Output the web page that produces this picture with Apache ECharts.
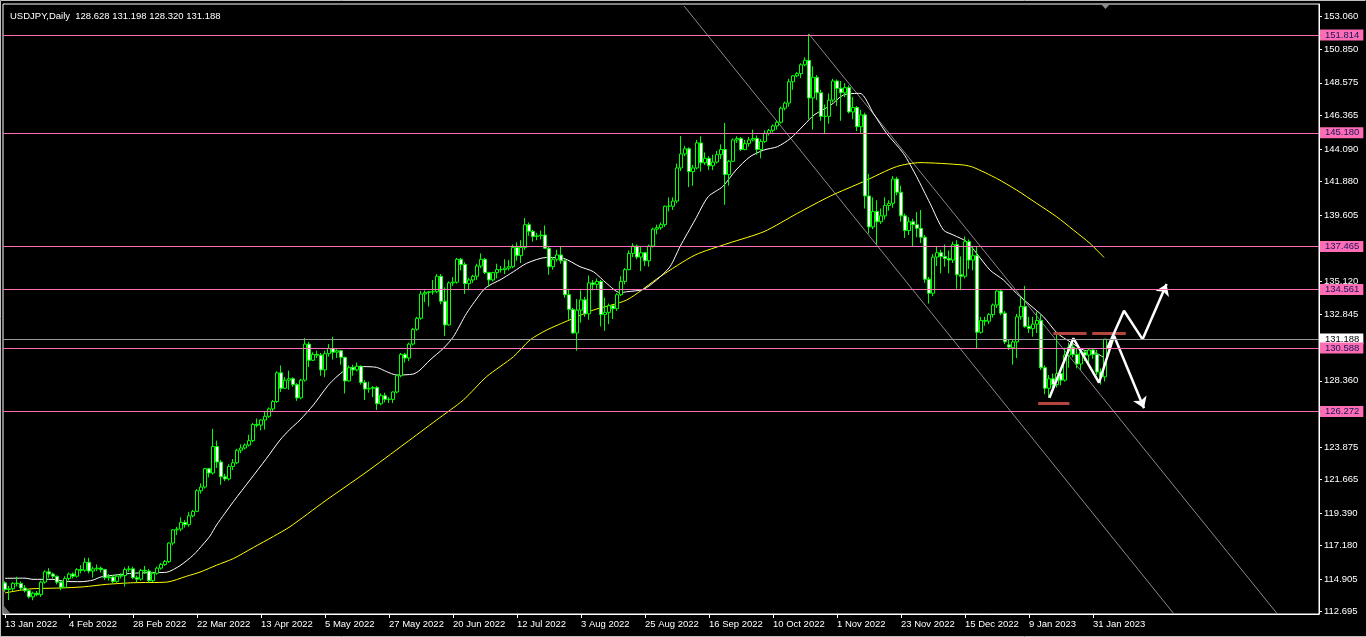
<!DOCTYPE html>
<html>
<head>
<meta charset="utf-8">
<script src="https://cdn.jsdelivr.net/npm/echarts@6/dist/echarts.min.js"></script>
<style>
html,body{margin:0;padding:0;background:#000;}
#c{width:1366px;height:637px;}
</style>
</head>
<body>
<div id="c"></div>
<script>
// ---------- DATA ----------
const titleText = 'USDJPY,Daily  128.628 131.198 128.320 131.188';
const dateLabels = ['13 Jan 2022','4 Feb 2022','28 Feb 2022','22 Mar 2022','13 Apr 2022','5 May 2022',
  '27 May 2022','20 Jun 2022','12 Jul 2022','3 Aug 2022','25 Aug 2022','16 Sep 2022','10 Oct 2022',
  '1 Nov 2022','23 Nov 2022','15 Dec 2022','9 Jan 2023','31 Jan 2023'];
const barsPerDateLabel = 16;
const slotCount = 329; // bars + empty shift area on the right
const priceTicks = [153.060,150.850,148.575,146.365,144.090,141.880,139.605,137.395,135.120,132.845,
  130.635,128.360,126.150,123.875,121.665,119.390,117.180,114.905,112.695];
const levels = [151.814,145.180,137.465,134.561,130.588,126.272];
const lastPrice = 131.188;
// daily candles: [open, close, low, high]
const candles = [
[114.65,114.20,114.05,114.75],[114.20,114.25,113.48,114.45],[114.25,114.62,114.10,114.70],[114.62,114.60,114.40,115.07],[114.60,114.30,114.15,114.75],
[114.30,114.12,114.00,114.50],[114.12,113.70,113.60,114.20],[113.70,113.95,113.47,114.05],[113.95,113.85,113.75,114.10],[113.85,114.70,113.70,114.80],
[114.70,115.40,114.60,115.50],[115.40,115.25,115.00,115.65],[115.25,115.10,114.95,115.35],[115.10,114.70,114.55,115.15],[114.70,114.35,114.15,114.75],
[114.35,114.95,114.30,115.10],[114.95,115.25,114.80,115.35],[115.25,115.10,114.95,115.35],[115.10,115.55,115.00,115.65],[115.55,115.50,115.30,115.85],
[115.50,116.05,115.40,116.35],[116.05,115.45,115.30,116.35],[115.45,115.60,115.00,115.75],[115.60,115.65,115.45,115.90],[115.65,115.55,115.35,115.75],
[115.55,115.00,114.85,115.60],[115.00,115.05,114.80,115.25],[115.05,114.75,114.60,115.20],[114.75,115.10,114.65,115.25],[115.10,115.15,114.95,115.30],
[115.15,115.55,114.40,115.70],[115.55,115.60,115.40,115.80],[115.60,115.00,114.90,115.75],[115.00,114.90,114.70,115.15],[114.90,115.50,114.80,115.60],
[115.50,115.45,115.25,115.80],[115.45,114.80,114.65,115.60],[114.80,115.30,114.70,115.40],[115.30,115.65,115.20,115.75],[115.65,115.90,115.55,116.00],
[115.90,116.10,115.80,116.20],[116.10,117.35,116.00,117.40],[117.35,118.25,117.20,118.30],[118.25,118.30,117.90,118.45],[118.30,118.75,118.15,119.10],
[118.75,118.60,118.40,118.90],[118.60,119.20,118.45,119.45],[119.20,119.50,119.10,119.60],[119.50,120.90,119.45,121.00],[120.90,121.15,120.70,121.40],
[121.15,122.40,121.05,122.45],[122.40,122.10,121.80,122.45],[122.10,123.90,122.00,125.10],[123.90,122.85,122.45,124.30],[122.85,121.85,121.30,123.00],
[121.85,121.70,121.55,122.05],[121.70,122.55,121.60,122.70],[122.55,122.80,122.30,123.05],[122.80,123.65,122.70,123.75],[123.65,123.80,123.45,124.05],
[123.80,124.00,123.70,124.10],[124.00,124.30,123.90,124.70],[124.30,125.40,124.20,125.50],[125.40,125.35,125.20,125.80],[125.35,125.70,125.00,125.75],
[125.70,125.95,125.05,126.30],[125.95,126.45,125.85,126.55],[126.45,126.95,126.30,127.05],[126.95,128.90,126.85,129.00],[128.90,127.85,127.60,129.40],
[127.85,128.40,127.80,128.60],[128.40,128.50,127.75,129.05],[128.50,128.10,127.95,128.60],[128.10,127.20,127.00,128.20],[127.20,128.40,127.10,128.50],
[128.40,130.85,128.30,131.25],[130.85,129.75,129.30,131.00],[129.75,130.15,129.70,130.30],[130.15,130.10,129.90,130.40],[130.10,129.10,128.70,130.25],
[129.10,130.20,128.60,130.40],[130.20,130.55,130.00,130.85],[130.55,130.30,129.80,131.35],[130.30,130.40,129.90,130.50],[130.40,129.95,129.45,130.45],
[129.95,128.35,127.50,130.00],[128.35,129.25,128.30,129.40],[129.25,129.10,128.70,129.45],[129.10,129.35,129.00,129.60],[129.35,128.25,128.10,129.40],
[128.25,127.80,127.05,128.40],[127.80,127.85,127.55,128.30],[127.85,127.90,127.25,128.00],[127.90,126.80,126.38,128.00],[126.80,127.35,126.70,127.50],
[127.35,127.10,126.90,127.55],[127.10,127.10,126.85,127.25],[127.10,127.60,126.85,127.65],[127.60,128.70,127.50,128.80],[128.70,130.15,128.60,130.25],
[130.15,129.90,129.60,130.25],[129.90,130.85,129.70,130.95],[130.85,131.85,130.75,131.95],[131.85,132.60,131.75,132.70],[132.60,134.25,132.50,134.45],
[134.25,134.35,133.70,134.50],[134.35,134.40,133.40,134.45],[134.40,134.40,134.20,135.20],[134.40,135.45,134.30,135.60],[135.45,133.75,133.55,135.60],
[133.75,132.15,131.40,134.70],[132.15,135.00,132.10,135.10],[135.00,135.05,134.80,135.40],[135.05,136.60,134.95,136.70],[136.60,136.25,135.85,136.70],
[136.25,134.95,134.25,136.40],[134.95,135.20,134.50,135.35],[135.20,135.45,135.00,135.55],[135.45,136.15,135.20,136.30],[136.15,136.60,136.00,137.00],
[136.60,135.70,135.60,136.70],[135.70,135.20,134.75,135.75],[135.20,135.70,135.10,135.75],[135.70,135.90,135.30,136.30],[135.90,135.90,135.70,136.15],
[135.90,136.00,135.60,136.60],[136.00,136.10,135.85,136.55],[136.10,137.40,136.00,137.60],[137.40,136.85,136.50,137.75],[136.85,137.40,136.35,137.90],
[137.40,138.95,137.25,139.40],[138.95,138.50,138.20,139.10],[138.50,138.15,137.80,138.60],[138.15,138.20,137.90,138.40],[138.20,138.25,137.95,138.55],
[138.25,137.35,137.30,138.90],[137.35,136.10,135.55,137.45],[136.10,136.60,135.90,136.75],[136.60,136.90,136.45,137.25],[136.90,136.50,136.30,137.45],
[136.50,134.20,134.00,136.60],[134.20,133.20,132.50,134.60],[133.20,131.60,131.55,133.30],[131.60,133.15,130.40,133.90],[133.15,133.85,132.30,134.50],
[133.85,132.90,132.70,134.05],[132.90,135.00,132.50,135.50],[135.00,134.90,134.50,135.20],[134.90,135.10,134.60,135.30],[135.10,132.85,132.05,135.20],
[132.85,133.00,131.75,134.00],[133.00,133.45,132.20,133.60],[133.45,133.25,132.55,133.50],[133.25,134.20,133.10,134.30],[134.20,135.10,134.10,135.45],
[135.10,135.90,134.90,136.00],[135.90,137.00,135.85,137.20],[137.00,137.50,136.75,137.70],[137.50,136.75,136.60,137.60],[136.75,137.05,135.80,137.45],
[137.05,136.50,136.15,137.10],[136.50,137.50,136.10,137.60],[137.50,138.65,137.40,138.75],[138.65,138.75,138.30,138.95],[138.75,138.95,138.60,139.10],
[138.95,140.20,138.80,140.25],[140.20,140.20,139.85,140.80],[140.20,140.55,139.95,140.80],[140.55,142.80,140.40,143.10],[142.80,143.75,142.60,144.97],
[143.75,144.10,143.60,144.30],[144.10,142.55,141.50,144.20],[142.55,142.80,141.60,143.00],[142.80,144.50,142.70,144.70],[144.50,143.15,142.55,144.95],
[143.15,143.45,143.00,143.85],[143.45,142.95,142.65,143.60],[142.95,143.20,142.65,143.70],[143.20,143.70,143.10,143.95],[143.70,144.05,143.40,144.40],
[144.05,142.35,140.30,145.85],[142.35,143.25,141.60,143.35],[143.25,144.70,143.20,144.80],[144.70,144.80,144.50,144.95],[144.80,144.05,143.95,144.90],
[144.05,144.45,144.00,144.70],[144.45,144.70,144.25,144.90],[144.70,144.80,144.60,145.40],[144.80,144.05,143.70,145.00],[144.05,144.60,143.45,144.75],
[144.60,145.15,144.50,145.35],[145.15,145.35,145.00,145.45],[145.35,145.65,145.20,145.75],[145.65,145.90,145.40,146.00],[145.90,146.85,145.80,146.95],
[146.85,147.20,146.70,147.30],[147.20,148.65,146.95,148.85],[148.65,149.05,148.10,149.10],[149.05,149.20,148.95,149.30],[149.20,149.80,148.90,149.90],
[149.80,150.10,149.70,150.30],[150.10,147.55,146.10,151.88],[147.55,148.95,145.40,149.70],[148.95,147.90,147.40,149.10],[147.90,146.30,146.00,148.10],
[146.30,146.30,145.10,147.10],[146.30,147.40,145.80,147.85],[147.40,148.70,147.25,148.85],[148.70,148.20,147.00,148.80],[148.20,147.90,146.00,148.70],
[147.90,148.25,147.60,148.55],[148.25,146.60,146.50,148.40],[146.60,146.90,146.10,147.60],[146.90,145.60,145.30,147.00],[145.60,146.40,145.10,146.75],
[146.40,140.90,140.05,146.55],[140.90,138.80,138.35,142.40],[138.80,139.85,138.65,140.80],[139.85,139.15,137.60,140.60],[139.15,139.55,139.00,140.05],
[139.55,140.25,139.30,140.80],[140.25,140.40,139.90,140.60],[140.40,142.05,140.10,142.25],[142.05,141.15,140.95,142.20],[141.15,139.55,139.15,141.60],
[139.55,138.55,138.05,139.70],[138.55,139.15,138.25,139.45],[139.15,138.95,137.50,139.35],[138.95,138.70,138.10,139.80],[138.70,138.10,137.70,139.95],
[138.10,135.25,135.00,138.25],[135.25,134.30,133.60,135.40],[134.30,136.75,134.10,136.95],[136.75,137.05,136.15,137.45],[137.05,136.80,135.65,137.25],
[136.80,136.65,136.10,137.60],[136.65,136.55,135.65,137.20],[136.55,137.60,136.35,137.80],[137.60,135.55,134.60,137.90],[135.55,135.45,134.50,136.80],
[135.45,137.80,135.30,138.15],[137.80,136.55,135.95,137.95],[136.55,136.85,135.85,137.45],[136.85,131.65,130.56,137.47],[131.65,132.45,131.55,132.70],
[132.45,132.40,132.10,132.70],[132.40,132.85,132.20,132.95],[132.85,133.50,132.65,133.60],[133.50,134.45,133.30,134.50],[134.45,132.95,132.80,134.55],
[132.95,131.00,130.85,133.10],[130.80,130.65,130.45,131.15],[130.60,131.00,129.45,131.15],[131.00,132.70,129.90,132.90],[132.70,133.40,132.50,134.05],
[133.40,132.05,131.95,134.80],[132.05,131.90,131.60,132.70],[131.90,132.20,131.35,132.70],[132.20,132.45,131.60,133.05],[132.45,129.25,129.10,132.85],
[129.25,127.85,127.45,129.40],[127.85,128.50,127.20,128.75],[128.50,128.10,127.60,128.85],[128.10,128.85,127.90,131.55],[128.85,128.40,128.05,129.05],
[128.40,130.10,128.30,130.60],[130.10,130.65,129.25,130.95],[130.65,130.15,129.95,131.00],[130.15,129.50,129.20,130.60],[129.50,130.30,129.10,130.45],
[130.30,130.10,129.70,130.45],[130.10,130.45,129.60,130.55],[130.45,130.15,129.85,130.55],[130.15,128.95,128.75,130.45],[128.95,128.63,128.10,129.20],
[128.628,131.188,128.320,131.198]
];
// moving averages: [bar index, price]
const whiteMA = [[0,114.96],[5,114.97],[7,114.89],[12,114.89],[15,114.75],[19,114.73],[22,114.84],[24,115.05],[32,115.30],[38,115.35],
[40.4,115.37],[43.75,115.82],[47.1,116.54],[49.6,117.29],[51.25,117.83],[52.9,118.58],[57.1,120.16],[61.25,121.63],[65.4,123.10],
[68.75,124.34],[71.25,125.07],[73.75,125.70],[77.1,126.72],[81.25,128.19],[85.4,129.14],[89.6,129.32],[92.9,129.27],[95.4,128.98],
[97.9,128.75],[102.1,128.82],[103.75,129.09],[106.25,129.77],[109.6,130.56],[112.1,131.35],[115.4,132.94],[119.6,134.52],[121.25,134.86],
[123.75,135.20],[127.1,135.76],[130.4,136.33],[135.4,136.73],[139.6,136.67],[143.75,136.10],[147.1,135.76],[150.4,134.97],[153.75,134.34],
[155.4,134.40],[159.6,134.56],[162.9,135.20],[166.25,136.10],[168.75,137.46],[172.5,139.27],[175.8,140.85],[179.4,141.53],[182.75,142.66],
[186.25,143.56],[189.75,144.02],[193.1,144.24],[196.4,144.81],[199.75,145.71],[202.25,146.39],[206.4,147.05],[209.6,147.75],[213.75,147.86],
[217.1,146.50],[220.4,145.15],[224.6,143.79],[227.9,142.21],[231.25,140.40],[234.6,138.59],[237.1,138.25],[240.4,137.80],[242.9,137.01],
[246.25,135.87],[249.6,135.20],[252.9,134.29],[256.25,133.50],[259.6,132.71],[263.1,131.58],[266.25,131.01],[269.6,130.45],[272.9,130.22],[275,129.88]];
const yellowMA = [[0,113.97],[6.25,114.24],[13.75,114.30],[19.6,114.38],[25.4,114.55],[32.1,114.66],[40.4,114.70],[45.4,115.10],[48.75,115.38],
[52.9,115.85],[57.1,116.30],[62.1,117.05],[67.1,117.80],[71.25,118.46],[80,120.20],[90,122.10],[100,124.10],[107.9,125.70],[114.6,127.06],
[120.4,128.64],[127.1,129.99],[131.25,131.13],[135.4,131.80],[141.25,132.50],[147.1,133.16],[155.4,133.84],[163.75,135.42],[172.5,136.89],
[180.75,137.68],[189.75,138.48],[198.1,139.72],[206.4,140.90],[214.6,141.87],[222.9,142.89],[228.75,143.16],[239.6,143.00],[242.1,142.84],
[247.9,142.09],[252.9,141.30],[257.9,140.40],[262.9,139.49],[267.1,138.59],[271.25,137.68],[274.75,136.73]];
// drawn objects (anchor points in [bar index, price])
const channelA = [[169.75,153.79],[292.25,112.54]];
const channelB = [[201,151.88],[318.1,112.54]];
const zigzagDown = [[261.1,127.21],[267.1,131.24],[273.5,128.23],[277.25,131.42],[284.75,126.49]];
const zigzagUp = [[275.6,130.58],[279.75,133.11],[284.4,131.17],[290.4,134.93]];
const redMarks = [[[262.1,131.58],[270.4,131.58]],[[271.8,131.58],[280.2,131.58]],[[258.3,126.83],[266.1,126.83]]];

// ---------- CHART ----------
const FONT = 'Liberation Sans';
const categories = Array.from({length: slotCount}, (_, i) => String(i));
const showDate = (idx) => idx % barsPerDateLabel === 0 && idx / barsPerDateLabel < dateLabels.length;
const PINK = '#ff6eb4';

function lastSeg(path){ return [path[path.length-2], path[path.length-1]]; }
function allButLast(path){ return path.slice(0, path.length-1); }

const levelMarks = [
  {yAxis: lastPrice, lineStyle:{color:'#9a9a9a', width:1, type:'solid'},
   label:{backgroundColor:'#ffffff', color:'#000000'}}
].concat(levels.map(v => ({yAxis: v, lineStyle:{color: PINK, width:1, type:'solid'},
   label:{backgroundColor: PINK, color:'#14145a'}})));

const chart = echarts.init(document.getElementById('c'));
chart.setOption({
  backgroundColor: '#000000',
  animation: false,
  title: {text: titleText, left: 5, top: 6, textStyle: {color:'#ffffff', fontSize: 9.5, fontWeight:'normal', fontFamily: FONT}},
  grid: {left: 3, top: 4, width: 1316, height: 610, show: true, borderColor:'#ffffff', borderWidth:1, backgroundColor:'transparent'},
  xAxis: [
    {type:'category', data: categories, boundaryGap: true,
     axisLine:{show:true, onZero:false, lineStyle:{color:'#ffffff', width:1}},
     axisTick:{show:true, alignWithLabel:true, interval: showDate, length:4, lineStyle:{color:'#ffffff'}},
     axisLabel:{show:true, interval: showDate, formatter: (v) => dateLabels[Number(v)/barsPerDateLabel] || '',
       color:'#ffffff', fontSize: 9.5, fontFamily: FONT, align:'left', margin: 5},
     splitLine:{show:false}},
    {type:'value', min: -0.5, max: slotCount - 0.5, show: false, axisLine:{onZero:false}}
  ],
  yAxis: {type:'value', position:'right', min: 112.538, max: 153.922, scale: true,
    axisLine:{show:true, onZero:false, lineStyle:{color:'#ffffff', width:1}},
    axisTick:{show:true, customValues: priceTicks, length:3, lineStyle:{color:'#ffffff'}},
    axisLabel:{show:true, customValues: priceTicks, formatter: (v) => v.toFixed(3), color:'#ffffff', fontSize: 9.5, fontFamily: FONT, margin: 5},
    splitLine:{show:false}},
  series: [
    {type:'line', xAxisIndex:1, data: channelA, showSymbol:false, silent:true, lineStyle:{color:'#8a8a8a', width:1}, z:2},
    {type:'line', xAxisIndex:1, data: channelB, showSymbol:false, silent:true, lineStyle:{color:'#8a8a8a', width:1}, z:2,
     markLine:{silent:true, symbol:'none', animation:false, z:20, precision:3,
       label:{show:true, position:'end', distance:1, fontSize:9.5, fontFamily: FONT, padding:[1,4,0,5],
              formatter: (p) => Number(p.value).toFixed(3)},
       data: levelMarks}},
    {type:'line', xAxisIndex:1, data: yellowMA, showSymbol:false, silent:true, smooth:0.25, lineStyle:{color:'#ffff00', width:1}, z:3},
    {type:'line', xAxisIndex:1, data: whiteMA, showSymbol:false, silent:true, smooth:0.25, lineStyle:{color:'#ffffff', width:1}, z:3},
    {type:'candlestick', xAxisIndex:0, data: candles, barWidth: 3,
     itemStyle:{color:'#000000', color0:'#ffffff', borderColor:'#00ff00', borderColor0:'#00ff00', borderWidth:1}, z:4},
    {type:'lines', coordinateSystem:'cartesian2d', xAxisIndex:1, silent:true, z:6,
     data: redMarks.map(c => ({coords: c})), lineStyle:{color:'#b5463d', width:3, opacity:1}},
    {type:'line', xAxisIndex:1, data: allButLast(zigzagDown), showSymbol:false, silent:true, lineStyle:{color:'#ffffff', width:2.5}, z:7},
    {type:'line', xAxisIndex:1, data: allButLast(zigzagUp), showSymbol:false, silent:true, lineStyle:{color:'#ffffff', width:2.5}, z:7},
    {type:'lines', coordinateSystem:'cartesian2d', xAxisIndex:1, silent:true, z:7,
     symbol:['none','arrow'], symbolSize:11,
     data: [{coords: lastSeg(zigzagDown)}, {coords: lastSeg(zigzagUp)}],
     lineStyle:{color:'#ffffff', width:2.5, opacity:1}}
  ],
  graphic: [
    {type:'polygon', shape:{points:[[1101,4],[1110,4],[1105.5,9]]}, style:{fill:'#8c8c8c'}, z:100},
    {type:'polygon', shape:{points:[[4,606],[4,613],[10,613]]}, style:{fill:'#707070'}, z:100},
    {type:'polyline', shape:{points:[[0.5,636.5],[0.5,0.5],[1365.5,0.5]]}, style:{stroke:'#c0c0c0', lineWidth:1, fill:null}, z:100},
    {type:'line', shape:{x1:0, y1:636.5, x2:1366, y2:636.5}, style:{stroke:'#c0c0c0', lineWidth:1}, z:100}
  ]
});
</script>
</body>
</html>
